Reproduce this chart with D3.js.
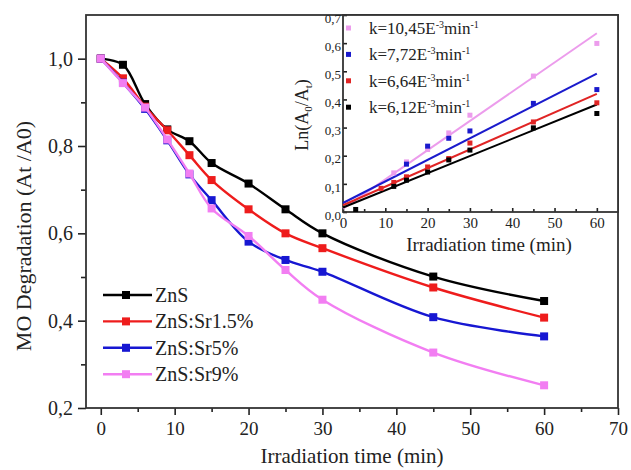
<!DOCTYPE html>
<html>
<head>
<meta charset="utf-8">
<script src="https://cdn.jsdelivr.net/npm/d3@7"></script>
<style>
  body { margin: 0; background: #fff; }
  svg { font-family: "Liberation Serif", "Times New Roman", serif; }
</style>
</head>
<body>
<div id="vis"></div>
<script>
// main chart data: MO degradation At/A0 vs irradiation time
const times = [0, 3, 6, 9, 12, 15, 20, 25, 30, 45, 60]
const seriesNames = ['ZnS', 'ZnS:Sr1.5%', 'ZnS:Sr5%', 'ZnS:Sr9%']
const znS    = [1.0, 0.986, 0.896, 0.838, 0.811, 0.761, 0.714, 0.655, 0.600, 0.501, 0.445]
const znSr15 = [1.0, 0.955, 0.890, 0.836, 0.779, 0.722, 0.655, 0.600, 0.566, 0.476, 0.407]
const znSr5  = [1.0, 0.945, 0.885, 0.813, 0.735, 0.676, 0.581, 0.539, 0.512, 0.408, 0.364]
const znSr9  = [1.0, 0.944, 0.888, 0.815, 0.737, 0.657, 0.594, 0.516, 0.448, 0.327, 0.252]
const colors = ['#000000', '#ee1c1c', '#1717d2', '#f27ef2']

// inset: Ln(A0/At) points and fitted lines
const kLabels = ['10,45', '7,72', '6,64', '6,12']
const insetColors = ['#ec9cec', '#1a1acc', '#e02424', '#000000']
const insetPts = [
  [[12, 0.139], [15, 0.178], [20, 0.222], [25, 0.281], [30, 0.344], [45, 0.483], [60, 0.599]],
  [[15, 0.170], [20, 0.234], [25, 0.262], [30, 0.288], [45, 0.386], [60, 0.435]],
  [[9, 0.084], [12, 0.105], [15, 0.125], [20, 0.160], [25, 0.190], [30, 0.245], [45, 0.320], [60, 0.388]],
  [[3, 0.009], [12, 0.091], [15, 0.113], [20, 0.142], [25, 0.185], [30, 0.220], [45, 0.299], [60, 0.350]]
]
const fitLines = [
  [[0, 0.012], [60, 0.635]],
  [[0, 0.032], [60, 0.492]],
  [[0, 0.024], [60, 0.420]],
  [[0, 0.016], [60, 0.382]]
]

const W = 631, H = 470
const svg = d3.select('#vis').append('svg').attr('width', W).attr('height', H)

const comma = d => d3.format('.1f')(d).replace('.', ',')

// ---------- main plot ----------
const x = d3.scaleLinear().domain([-2, 70]).range([86, 618])
const y = d3.scaleLinear().domain([0.2, 1.1]).range([408, 15])

const xAxis = d3.axisBottom(x).tickValues([0, 10, 20, 30, 40, 50, 60, 70]).tickSize(7).tickPadding(7)
const xMinor = d3.axisBottom(x).tickValues([5, 15, 25, 35, 45, 55, 65]).tickSize(4).tickFormat('')
const yAxis = d3.axisLeft(y).tickValues([0.2, 0.4, 0.6, 0.8, 1.0]).tickSize(8).tickPadding(5).tickFormat(comma)
const yMinor = d3.axisLeft(y).tickValues([0.3, 0.5, 0.7, 0.9]).tickSize(5).tickFormat('')

function styleAxis(g, fs) {
  g.select('.domain').remove()
  g.selectAll('line').attr('stroke', '#222').attr('stroke-width', 1.6)
  g.selectAll('text').attr('font-size', fs).attr('fill', '#222').attr('font-family', '"Liberation Serif", serif')
}

svg.append('g').attr('transform', 'translate(0,408)').call(xAxis).call(g => styleAxis(g, 19))
svg.append('g').attr('transform', 'translate(0,408)').call(xMinor).call(g => styleAxis(g, 19))
svg.append('g').attr('transform', 'translate(86,0)').call(yAxis).call(g => styleAxis(g, 20))
svg.append('g').attr('transform', 'translate(86,0)').call(yMinor).call(g => styleAxis(g, 20))

svg.append('rect')
  .attr('x', 86).attr('y', 15).attr('width', 532).attr('height', 393)
  .attr('fill', 'none').attr('stroke', '#333').attr('stroke-width', 1.8)

const allSeries = [znS, znSr15, znSr5, znSr9]
const line = d3.line()
  .x((d, i) => x(times[i]))
  .y(d => y(d))
  .curve(d3.curveCatmullRom.alpha(0.5))

allSeries.forEach((s, k) => {
  svg.append('path')
    .attr('d', line(s))
    .attr('fill', 'none')
    .attr('stroke', colors[k])
    .attr('stroke-width', 2.4)
  svg.selectAll('.m' + k)
    .data(s)
    .enter()
    .append('rect')
    .attr('x', (d, i) => x(times[i]) - 4)
    .attr('y', d => y(d) - 4)
    .attr('width', 8).attr('height', 8)
    .attr('fill', colors[k])
})

// legend
const legend = svg.append('g')
seriesNames.forEach((name, k) => {
  const ly = 295 + k * 26.4
  legend.append('line').attr('x1', 103).attr('x2', 152).attr('y1', ly).attr('y2', ly)
    .attr('stroke', colors[k]).attr('stroke-width', 2.4)
  legend.append('rect').attr('x', 122).attr('y', ly - 4).attr('width', 8).attr('height', 8)
    .attr('fill', colors[k])
  legend.append('text').attr('x', 155).attr('y', ly + 7).attr('font-size', 20).attr('fill', '#222')
    .text(name)
})

svg.append('text')
  .attr('x', 352).attr('y', 463)
  .attr('text-anchor', 'middle').attr('font-size', 21).attr('fill', '#222')
  .text('Irradiation time (min)')

svg.append('text')
  .attr('transform', 'translate(31,236) rotate(-90)')
  .attr('text-anchor', 'middle').attr('font-size', 22).attr('fill', '#222')
  .text('MO Degradation (At /A0)')

// ---------- inset ----------
const ix = d3.scaleLinear().domain([0, 65]).range([343, 618])
const iy = d3.scaleLinear().domain([0, 0.7]).range([212, 15])

svg.append('rect')
  .attr('x', 343).attr('y', 15).attr('width', 275).attr('height', 197)
  .attr('fill', '#fff')

const ixAxis = d3.axisBottom(ix).tickValues([0, 10, 20, 30, 40, 50, 60]).tickSize(-4).tickPadding(5)
const ixMinor = d3.axisBottom(ix).tickValues([5, 15, 25, 35, 45, 55]).tickSize(-3).tickFormat('')
const iyAxis = d3.axisLeft(iy).tickValues([0, 0.1, 0.2, 0.3, 0.4, 0.5, 0.6, 0.7]).tickSize(-4).tickPadding(2).tickFormat(comma)

svg.append('g').attr('transform', 'translate(0,212)').call(ixAxis).call(g => styleAxis(g, 15))
svg.append('g').attr('transform', 'translate(0,212)').call(ixMinor).call(g => styleAxis(g, 15))
svg.append('g').attr('transform', 'translate(343,0)').call(iyAxis).call(g => {
  styleAxis(g, 13)
  g.selectAll('text').attr('dy', '0.55em')
})

svg.append('rect')
  .attr('x', 343).attr('y', 15).attr('width', 275).attr('height', 197)
  .attr('fill', 'none').attr('stroke', '#333').attr('stroke-width', 1.8)

fitLines.forEach((f, k) => {
  svg.append('line')
    .attr('x1', ix(f[0][0])).attr('y1', iy(f[0][1]))
    .attr('x2', ix(f[1][0])).attr('y2', iy(f[1][1]))
    .attr('stroke', insetColors[k]).attr('stroke-width', 2)
})

insetPts.forEach((pts, k) => {
  svg.selectAll('.ip' + k)
    .data(pts)
    .enter()
    .append('rect')
    .attr('x', d => ix(d[0]) - 2.5)
    .attr('y', d => iy(d[1]) - 2.5)
    .attr('width', 5).attr('height', 5)
    .attr('fill', insetColors[k])
})

const ileg = svg.append('g')
kLabels.forEach((kv, k) => {
  const ly = 28 + k * 26.4
  ileg.append('rect').attr('x', 346).attr('y', ly - 2.5).attr('width', 5).attr('height', 5)
    .attr('fill', insetColors[k])
  const t = ileg.append('text').attr('x', 369).attr('y', ly + 6).attr('font-size', 17).attr('fill', '#222')
  t.append('tspan').text('k=' + kv + 'E')
  t.append('tspan').attr('dy', -6).attr('font-size', 10).text('-3')
  t.append('tspan').attr('dy', 6).text('min')
  t.append('tspan').attr('dy', -6).attr('font-size', 10).text('-1')
})

svg.append('text')
  .attr('x', 489).attr('y', 251)
  .attr('text-anchor', 'middle').attr('font-size', 19).attr('fill', '#222')
  .text('Irradiation time (min)')

const iyl = svg.append('text')
  .attr('transform', 'translate(308,115) rotate(-90)')
  .attr('text-anchor', 'middle').attr('font-size', 18).attr('fill', '#222')
iyl.append('tspan').text('Ln(A')
iyl.append('tspan').attr('dy', 4).attr('font-size', 11).text('0')
iyl.append('tspan').attr('dy', -4).text('/A')
iyl.append('tspan').attr('dy', 4).attr('font-size', 11).text('t')
iyl.append('tspan').attr('dy', -4).text(')')
</script>
</body>
</html>
